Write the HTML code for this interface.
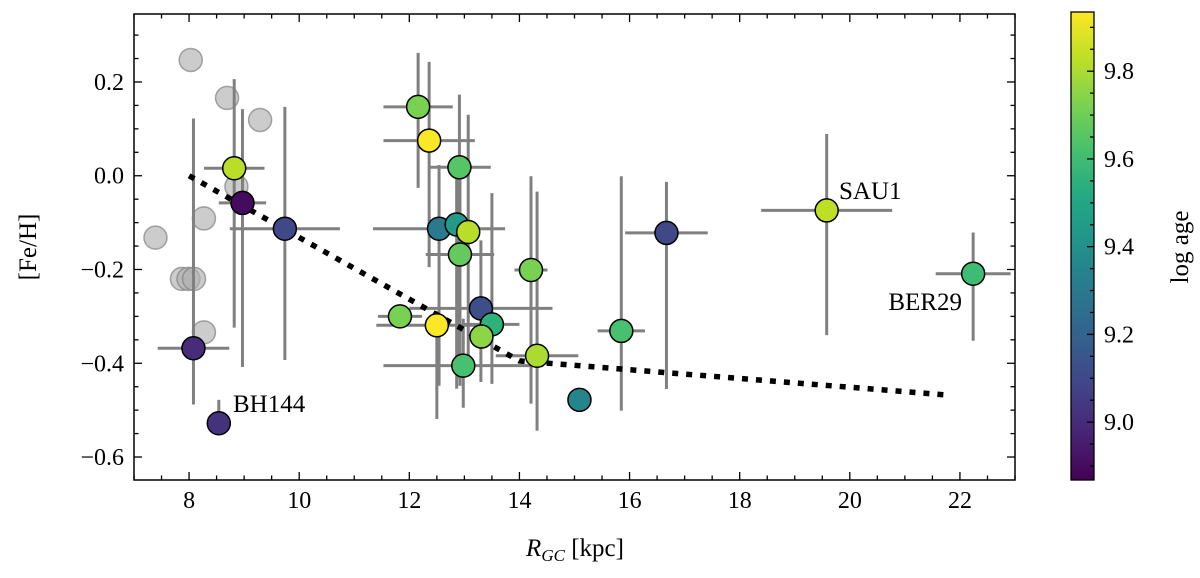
<!DOCTYPE html>
<html><head><meta charset="utf-8"><style>
html,body{margin:0;padding:0;background:#fff;}
svg{display:block;font-family:"Liberation Serif",serif;}
</style></head><body>
<svg id="chart" width="1200" height="578" viewBox="0 0 1200 578" xmlns="http://www.w3.org/2000/svg">
<defs>
<linearGradient id="vir" x1="0" y1="1" x2="0" y2="0">
<stop offset="0" stop-color="#440154"/><stop offset="0.1" stop-color="#482475"/><stop offset="0.2" stop-color="#414487"/><stop offset="0.3" stop-color="#355f8d"/><stop offset="0.4" stop-color="#2a788e"/><stop offset="0.5" stop-color="#21918c"/><stop offset="0.6" stop-color="#22a884"/><stop offset="0.7" stop-color="#44bf70"/><stop offset="0.8" stop-color="#7ad151"/><stop offset="0.9" stop-color="#bddf26"/><stop offset="1" stop-color="#fde725"/>
</linearGradient>
<clipPath id="plotclip"><rect x="134" y="14" width="881" height="466"/></clipPath>
</defs>
<g id="plot" clip-path="url(#plotclip)"></g>
<g id="axes"></g>
</svg>
<script>
// Gray (no-age) clusters
const grayX = [8.03, 8.69, 9.29, 8.86, 8.27, 7.39, 7.87, 7.99, 8.09, 8.27];
const grayY = [0.247, 0.166, 0.119, -0.023, -0.091, -0.132, -0.22, -0.22, -0.22, -0.334];
// Coloured clusters
const ptX   = [8.82, 8.97, 9.74, 8.08, 8.54, 12.16, 12.36, 12.91, 12.54, 12.86, 13.07, 12.92, 14.21, 13.30, 13.50, 13.31, 14.32, 12.50, 12.98, 15.09, 15.85, 11.83, 16.67, 19.58, 22.24];
const ptY   = [0.016, -0.058, -0.113, -0.368, -0.528, 0.147, 0.075, 0.018, -0.113, -0.104, -0.12, -0.168, -0.201, -0.283, -0.317, -0.343, -0.384, -0.319, -0.405, -0.478, -0.331, -0.30, -0.122, -0.074, -0.209];
const ptAge = [9.82, 8.90, 9.10, 9.00, 9.02, 9.72, 9.93, 9.65, 9.30, 9.45, 9.82, 9.68, 9.72, 9.12, 9.55, 9.75, 9.80, 9.93, 9.62, 9.35, 9.62, 9.72, 9.10, 9.83, 9.60];
const errUp = [0.19, 0.20, 0.26, 0.49, 0.05, 0.115, 0.168, 0.155, 0.136, 0.13, 0.25, 0.16, 0.20, 0.145, 0.28, 0.0, 0.35, 0.03, 0.10, 0, 0.33, 0.0, 0.109, 0.163, 0.088];
const errDn = [0.34, 0.35, 0.28, 0.12, 0.0, 0.173, 0.27, 0.45, 0.335, 0.35, 0.285, 0.28, 0.285, 0.157, 0.127, 0.0, 0.16, 0.20, 0.09, 0, 0.17, 0.0, 0.333, 0.266, 0.143];
const errX  = [0.55, 0.43, 1.0, 0.65, 0.0, 0.63, 0.83, 0.57, 1.2, 0.0, 0.0, 0.62, 0.3, 1.3, 0.5, 0.0, 0.75, 1.1, 1.45, 0, 0.43, 0.4, 0.75, 1.19, 0.68];
// Gradient trend line
const trendX = [8.0, 14.0, 21.8];
const trendY = [0.0, -0.395, -0.468];
// Labels
const labelNames = ["BH144", "SAU1", "BER29"];
const xTicks = [8, 10, 12, 14, 16, 18, 20, 22];
const yTicks = [-0.6, -0.4, -0.2, 0.0, 0.2];
const cTicks = [9.0, 9.2, 9.4, 9.6, 9.8];

const X0=134, X1=1015, Y0=14, Y1=480;
const xmin=7, xmax=23, ymin=-0.649, ymax=0.345;
const cmin=8.868, cmax=9.935, CB0=12, CB1=480, CBX=1071, CBW=23;
const sx = v => X0 + (v - xmin) / (xmax - xmin) * (X1 - X0);
const sy = v => Y1 - (v - ymin) / (ymax - ymin) * (Y1 - Y0);
const sc = v => CB1 - (v - cmin) / (cmax - cmin) * (CB1 - CB0);
const vir = ["#440154","#482475","#414487","#355f8d","#2a788e","#21918c","#22a884","#44bf70","#7ad151","#bddf26","#fde725"];
function hex(h){return [1,3,5].map(i=>parseInt(h.substr(i,2),16));}
function cmap(a){
  let t=Math.max(0,Math.min(1,(a-cmin)/(cmax-cmin)))*10;
  let i=Math.min(9,Math.floor(t)), f=t-i;
  const c0=hex(vir[i]), c1=hex(vir[i+1]);
  return "rgb("+c0.map((c,k)=>Math.round(c+(c1[k]-c)*f)).join(",")+")";
}
const NS="http://www.w3.org/2000/svg";
function mk(tag, attrs, parent){const e=document.createElementNS(NS,tag);for(const k in attrs)e.setAttribute(k,attrs[k]);parent.appendChild(e);return e;}
const plot=document.getElementById('plot'), axes=document.getElementById('axes');

grayX.forEach((x,i)=>{
  const c=mk('circle',{cx:sx(x),cy:sy(grayY[i]),r:11.5,fill:'#b0b0b0','fill-opacity':0.65,stroke:'#808080','stroke-opacity':0.7,'stroke-width':1.5},plot);
  
  
});
ptX.forEach((x,i)=>{
  const g=mk('g',{stroke:'#808080','stroke-width':3},plot);
  
  
  if(errUp[i]+errDn[i]>0) mk('line',{x1:sx(x),x2:sx(x),y1:sy(ptY[i]+errUp[i]),y2:sy(ptY[i]-errDn[i])},g);
  if(errX[i]>0) mk('line',{x1:sx(x-errX[i]),x2:sx(x+errX[i]),y1:sy(ptY[i]),y2:sy(ptY[i])},g);
});
const tl=mk('polyline',{points:trendX.map((x,i)=>sx(x)+','+sy(trendY[i])).join(' '),fill:'none',stroke:'#000','stroke-width':5.5,'stroke-dasharray':'6 8'},plot);


ptX.forEach((x,i)=>{
  const c=mk('circle',{cx:sx(x),cy:sy(ptY[i]),r:11.5,fill:cmap(ptAge[i]),stroke:'#000','stroke-width':1.5},plot);
  
  
});
const labPos=[[233,412,'start'],[839,199,'start'],[962,310,'end']];
labelNames.forEach((n,i)=>{
  const t=mk('text',{x:labPos[i][0],y:labPos[i][1],'font-size':25,'text-anchor':labPos[i][2],fill:'#000'},axes);
  t.textContent=n;
  
  
});
const fr=mk('rect',{x:X0,y:Y0,width:X1-X0,height:Y1-Y0,fill:'none',stroke:'#000','stroke-width':1.5},axes);


for(let v=7;v<=23.001;v+=0.5){
  const maj=Math.abs(v/2-Math.round(v/2))<1e-6, L=maj?8:4.5, px=sx(v);
  mk('line',{x1:px,x2:px,y1:Y1,y2:Y1-L,stroke:'#000','stroke-width':1.3},axes);
  mk('line',{x1:px,x2:px,y1:Y0,y2:Y0+L,stroke:'#000','stroke-width':1.3},axes);
}
xTicks.forEach(v=>{
  const t=mk('text',{x:sx(v),y:508,'font-size':24,'text-anchor':'middle'},axes);
  t.textContent=String(v);
  
  
});
for(let k=-13;k<=6;k++){
  const v=k*0.05; const maj=k%4===0, L=maj?8:4.5, py=sy(v);
  if(py<Y0||py>Y1) continue;
  mk('line',{x1:X0,x2:X0+L,y1:py,y2:py,stroke:'#000','stroke-width':1.3},axes);
  mk('line',{x1:X1,x2:X1-L,y1:py,y2:py,stroke:'#000','stroke-width':1.3},axes);
}
yTicks.forEach(v=>{
  const t=mk('text',{x:124,y:sy(v)+8,'font-size':24,'text-anchor':'end'},axes);
  t.textContent=(v<0?'\u2212':'')+Math.abs(v).toFixed(1);
  
  
});
const xt=mk('text',{x:575,y:556,'font-size':25,'text-anchor':'middle'},axes);
xt.innerHTML='<tspan font-style="italic">R</tspan><tspan font-style="italic" font-size="17" dy="5">GC</tspan><tspan dy="-5"> [kpc]</tspan>';


const yt=mk('text',{x:0,y:0,'font-size':25,'text-anchor':'middle',transform:'translate(36,247) rotate(-90)'},axes);
yt.textContent='[Fe/H]';


const cb=mk('rect',{x:CBX,y:CB0,width:CBW,height:CB1-CB0,fill:'url(#vir)',stroke:'#000','stroke-width':1.3},axes);


for(let k=0;k<=22;k++){
  const v=8.9+k*0.05; if(v>cmax) break;
  const maj=Math.abs((v*5)-Math.round(v*5))<1e-6, py=sc(v);
  mk('line',{x1:CBX+CBW,x2:CBX+CBW-(maj?7:4),y1:py,y2:py,stroke:'#000','stroke-width':1.3},axes);
}
cTicks.forEach(v=>{
  const t=mk('text',{x:1104,y:sc(v)+8,'font-size':24},axes);
  t.textContent=v.toFixed(1);
  
  
});
const ct=mk('text',{x:0,y:0,'font-size':25,'text-anchor':'middle',transform:'translate(1188,247) rotate(-90)'},axes);
ct.textContent='log age';


</script>
</body></html>
